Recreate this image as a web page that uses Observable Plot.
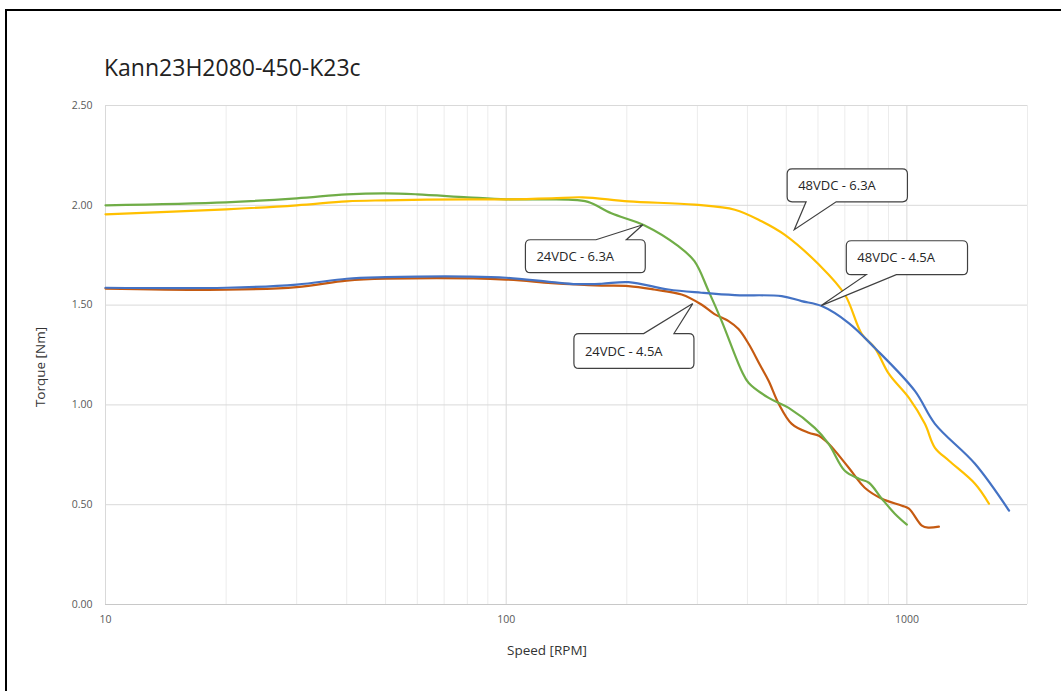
<!DOCTYPE html>
<html><head><meta charset="utf-8">
<script src="https://cdn.jsdelivr.net/npm/d3@7"></script>
<script src="https://cdn.jsdelivr.net/npm/@observablehq/plot@0.6"></script>
<style>
html,body{margin:0;padding:0;background:#fff;overflow:hidden;width:1061px;height:691px;font-family:"Open Sans",sans-serif;}
#frame{position:absolute;left:5px;top:9px;width:2000px;height:2000px;border:2px solid #000;box-sizing:border-box;}
#title{position:absolute;left:104px;top:52px;font-size:23px;line-height:30px;color:#222;white-space:nowrap;}
#chart{position:absolute;left:0;top:90px;}
.axt{position:absolute;font-size:13.5px;color:#333;white-space:nowrap;transform:translate(-50%,-50%);}
#ytitle{left:40px;top:367px;transform:translate(-50%,-50%) rotate(-90deg);}
#xtitle{left:547px;top:650px;}
</style></head>
<body>
<div id="frame"></div>
<div id="title">Kann23H2080-450-K23c</div>
<div id="chart"></div>
<div class="axt" id="ytitle">Torque [Nm]</div>
<div class="axt" id="xtitle">Speed [RPM]</div>
<script>
// ---- data (speed in RPM, torque in Nm) ----
const seriesNames = ["24VDC - 4.5A", "24VDC - 6.3A", "48VDC - 6.3A", "48VDC - 4.5A"];
const seriesColors = ["#c55a11", "#70ad47", "#ffc000", "#4472c4"];

const s24v45 = [[10,1.583],[20,1.577],[30,1.59],[40,1.623],[50,1.632],[100,1.628],[130,1.61],[173,1.598],[202,1.595],[234,1.578],[274,1.553],[307,1.503],[331,1.455],[359,1.42],[380,1.38],[403,1.305],[430,1.2],[452,1.12],[479,1.005],[516,0.905],[569,0.86],[603,0.845],[638,0.805],[716,0.685],[785,0.585],[866,0.53],[972,0.495],[1012,0.48],[1090,0.395],[1130,0.385],[1202,0.39]];
const s24v63 = [[10,2.0],[20,2.015],[30,2.035],[40,2.055],[50,2.06],[60,2.055],[80,2.04],[100,2.03],[130,2.03],[143,2.028],[160,2.017],[183,1.96],[221,1.9],[269,1.795],[295,1.72],[320,1.57],[345,1.42],[387,1.17],[403,1.11],[452,1.035],[507,0.985],[589,0.885],[638,0.805],[700,0.67],[759,0.63],[804,0.61],[866,0.53],[933,0.455],[1000,0.40]];
const s48v63 = [[10,1.955],[20,1.98],[30,2.0],[40,2.02],[50,2.025],[80,2.03],[100,2.03],[130,2.035],[155,2.04],[202,2.02],[295,2.003],[372,1.978],[434,1.92],[495,1.853],[603,1.703],[700,1.553],[772,1.355],[832,1.285],[902,1.155],[1012,1.035],[1109,0.905],[1175,0.785],[1274,0.72],[1479,0.605],[1603,0.505]];
const s48v45 = [[10,1.587],[20,1.587],[30,1.603],[40,1.632],[50,1.64],[60,1.643],[80,1.643],[100,1.637],[130,1.615],[150,1.605],[173,1.607],[202,1.615],[254,1.578],[307,1.562],[372,1.55],[487,1.545],[546,1.52],[613,1.495],[716,1.41],[832,1.285],[1047,1.07],[1175,0.905],[1479,0.705],[1799,0.47]];

const xTickLabels = [10, 100, 1000];
const xMinorGrid = [20,30,40,50,60,70,80,90,200,300,400,500,600,700,800,900,2000];
const yTicks = [0, 0.5, 1.0, 1.5, 2.0, 2.5];

// callout annotations, anchored in data units
const calloutText = ["48VDC - 6.3A", "48VDC - 4.5A", "24VDC - 6.3A", "24VDC - 4.5A"];
const calloutTip = [[525,1.875],[613,1.495],[220,1.90],[293,1.505]];
const calloutBox = [[504,1006,2.18,2.015],[708,1421,1.82,1.65],[112,223,1.825,1.66],[148,295,1.355,1.18]];
const calloutBase = [[562,668],[794,944],[168,200],[221,263]];

// ---- build table ----
const allSeries = [s24v45, s24v63, s48v63, s48v45];
const rows = [];
allSeries.forEach((s, i) => s.forEach(([speed, torque]) => rows.push({series: seriesNames[i], speed, torque})));

function callouts(index, scales) {
  const X = scales.x, Y = scales.y;
  const g = d3.create("svg:g");
  calloutText.forEach((t, i) => {
    const [bx0, bx1, by0, by1] = calloutBox[i];
    const x0 = X(bx0), x1 = X(bx1), y0 = Y(by0), y1 = Y(by1);
    const tx = X(calloutTip[i][0]), ty = Y(calloutTip[i][1]);
    const w0 = X(calloutBase[i][0]), w1 = X(calloutBase[i][1]);
    const r = 5;
    const below = ty > y1;
    let d;
    if (below) {
      d = `M${x0+r},${y0}H${x1-r}Q${x1},${y0} ${x1},${y0+r}V${y1-r}Q${x1},${y1} ${x1-r},${y1}H${w1}L${tx},${ty}L${w0},${y1}H${x0+r}Q${x0},${y1} ${x0},${y1-r}V${y0+r}Q${x0},${y0} ${x0+r},${y0}Z`;
    } else {
      d = `M${x0+r},${y0}H${w0}L${tx},${ty}L${w1},${y0}H${x1-r}Q${x1},${y0} ${x1},${y0+r}V${y1-r}Q${x1},${y1} ${x1-r},${y1}H${x0+r}Q${x0},${y1} ${x0},${y1-r}V${y0+r}Q${x0},${y0} ${x0+r},${y0}Z`;
    }
    g.append("path").attr("d", d).attr("fill", "#fff").attr("stroke", "#404040").attr("stroke-width", 1.2);
    g.append("text").attr("x", x0 + 11).attr("y", (y0 + y1) / 2).attr("dy", "0.35em")
      .attr("text-anchor", "start")
      .attr("font-size", 13).attr("font-family", "Open Sans, sans-serif").attr("fill", "#262626").text(t);
  });
  return g.node();
}

const chart = Plot.plot({
  width: 1061,
  height: 600,
  marginLeft: 105,
  marginRight: 34,
  marginTop: 15,
  marginBottom: 86,
  style: {fontFamily: "Open Sans, sans-serif", fontSize: "10.5px", color: "#595959", background: "transparent"},
  x: {type: "log", domain: [10, 2000], ticks: xTickLabels, tickFormat: d => String(d), tickSize: 0, tickPadding: 11, label: null},
  y: {domain: [0, 2.5], ticks: yTicks, tickFormat: d => d.toFixed(2), tickSize: 0, tickPadding: 13, label: null},
  marks: [
    Plot.ruleX(xMinorGrid, {stroke: "#ececec", strokeWidth: 1}),
    Plot.ruleY(yTicks, {stroke: "#d9d9d9", strokeWidth: 1}),
    Plot.ruleX(xTickLabels, {stroke: "#d9d9d9", strokeWidth: 1}),
    Plot.ruleY([0], {stroke: "#c8c8c8", strokeWidth: 1}),
    ...seriesNames.map((name, i) => Plot.line(rows.filter(r => r.series === name), {
      x: "speed", y: "torque", stroke: seriesColors[i], strokeWidth: 2.2, curve: "catmull-rom"
    })),
    callouts
  ]
});
document.getElementById("chart").appendChild(chart);
</script>
</body></html>
